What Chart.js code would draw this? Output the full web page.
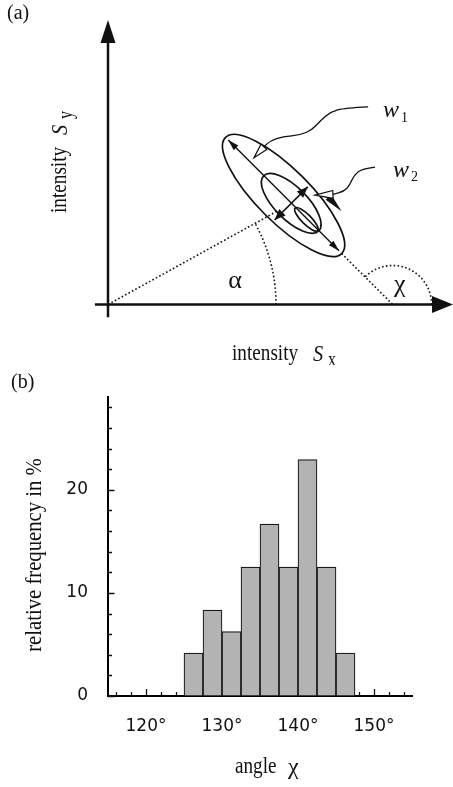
<!DOCTYPE html>
<html>
<head>
<meta charset="utf-8">
<script src="https://cdn.jsdelivr.net/npm/chart.js@4.4.1/dist/chart.umd.min.js"></script>
<style>
  html, body { margin: 0; padding: 0; background: #fff; }
  #wrap { position: relative; width: 453px; height: 787px; overflow: hidden; }
  canvas { position: absolute; left: 0; }
  #diagram { top: 0; }
  #histo { top: 365px; }
</style>
</head>
<body>
<div id="wrap">
  <canvas id="diagram" width="453" height="365"></canvas>
  <canvas id="histo" width="453" height="422"></canvas>
</div>
<script>
// ---- (b) histogram of the orientation angle chi ----
const binCenters   = [126.25, 128.75, 131.25, 133.75, 136.25, 138.75, 141.25, 143.75, 146.25]; // degrees, 2.5° bins
const relFrequency = [4.17, 8.33, 6.25, 12.5, 16.67, 12.5, 22.92, 12.5, 4.17];              // percent
const xMajorTicks  = [120, 130, 140, 150];
const xTickLabels  = ['120°', '130°', '140°', '150°'];
const yMajorTicks  = [0, 10, 20];
const yTickLabels  = ['0', '10', '20'];
const xRange = [115, 155];
const yRange = [0, 29];
const minorStep = 2;

// ---- (a) scatter ellipse in the (Sx, Sy) intensity plane, arbitrary units ----
const chiDeg       = 135;            // orientation of the major axis
const outerCenter  = [5.09, 3.16];
const outerAxes    = [2.38, 0.77];   // semi-major, semi-minor
const innerCenter  = [5.31, 2.93];   // centre of the distribution
const innerAxes    = [1.13, 0.47];
const coreCenter   = [5.75, 2.47];
const coreAxes     = [0.46, 0.14];
const w1Half       = 2.27;
const w2Half       = 0.68;
const alphaArcR    = 4.87;
const chiArcR      = 1.13;
const w1Pointer    = [[7.54, 5.73], [6.87, 5.70], [6.44, 5.58], [6.15, 5.32], [5.91, 5.06], [5.57, 4.91], [5.07, 4.87], [4.70, 4.74], [4.52, 4.57]];
const w1PointerTip = [4.23, 4.25];
const w2Pointer    = [[7.74, 3.98], [7.36, 3.93], [7.13, 3.75], [7.01, 3.46], [6.84, 3.28], [6.52, 3.19]];
const w2PointerTip = [6.00, 3.17];
const dirArrow     = [[6.39, 3.11], [6.77, 2.70]]; // base, tip

const INK = '#111';
const SERIF = '"Liberation Serif", "Times New Roman", serif';
const SANS = '"DejaVu Sans", "Liberation Sans", sans-serif';

function drawText(ctx, s, x, y, font, opt = {}) {
  ctx.save();
  ctx.translate(x, y);
  if (opt.rot) ctx.rotate(opt.rot);
  ctx.scale(opt.sx || 1, 1);
  ctx.font = font;
  ctx.fillStyle = INK;
  ctx.textAlign = opt.align || 'left';
  ctx.textBaseline = 'alphabetic';
  ctx.fillText(s, 0, 0);
  ctx.restore();
}

function tri(ctx, tip, base, half, mode) {
  const dx = tip[0] - base[0], dy = tip[1] - base[1];
  const L = Math.hypot(dx, dy) || 1;
  const nx = -dy / L * half, ny = dx / L * half;
  ctx.beginPath();
  ctx.moveTo(tip[0], tip[1]);
  ctx.lineTo(base[0] + nx, base[1] + ny);
  ctx.lineTo(base[0] - nx, base[1] - ny);
  ctx.closePath();
  if (mode === 'open') {
    ctx.fillStyle = '#fff'; ctx.fill();
    ctx.lineWidth = 1.2; ctx.strokeStyle = INK; ctx.stroke();
  } else {
    ctx.fillStyle = INK; ctx.fill();
  }
}

function headAt(ctx, tip, from, len, half, mode) {
  const dx = tip[0] - from[0], dy = tip[1] - from[1];
  const L = Math.hypot(dx, dy) || 1;
  const base = [tip[0] - dx / L * len, tip[1] - dy / L * len];
  tri(ctx, tip, base, half, mode);
  return base;
}

// first point where the segment origin -> target enters an ellipse (fraction of the segment)
function enterEllipse(target, c, ax, theta) {
  const u = [Math.cos(theta), Math.sin(theta)], v = [-u[1], u[0]];
  const A = target[0] * u[0] + target[1] * u[1], B = c[0] * u[0] + c[1] * u[1];
  const A2 = target[0] * v[0] + target[1] * v[1], B2 = c[0] * v[0] + c[1] * v[1];
  const a2 = ax[0] * ax[0], b2 = ax[1] * ax[1];
  const qa = A * A / a2 + A2 * A2 / b2;
  const qb = -2 * (A * B / a2 + A2 * B2 / b2);
  const qc = B * B / a2 + B2 * B2 / b2 - 1;
  const disc = qb * qb - 4 * qa * qc;
  if (disc < 0) return 1;
  return (-qb - Math.sqrt(disc)) / (2 * qa);
}

const diagramPlugin = {
  id: 'diagram',
  afterDraw(chart) {
    const { ctx } = chart;
    const xs = chart.scales.x, ys = chart.scales.y;
    const P = p => [xs.getPixelForValue(p[0]), ys.getPixelForValue(p[1])];
    const k = xs.getPixelForValue(1) - xs.getPixelForValue(0);
    const chi = chiDeg * Math.PI / 180;
    const u = [Math.cos(chi), Math.sin(chi)];
    const v = [Math.cos(chi - Math.PI / 2), Math.sin(chi - Math.PI / 2)];
    const add = (a, b, s) => [a[0] + b[0] * s, a[1] + b[1] * s];

    ctx.save();
    ctx.strokeStyle = INK; ctx.fillStyle = INK; ctx.lineCap = 'butt';

    // coordinate axes with arrow heads
    const o = P([0, 0]);
    const yTip = P([0, ys.max]);
    const xTip = P([xs.max, 0]);
    ctx.lineWidth = 2.5;
    ctx.beginPath();
    ctx.moveTo(o[0], P([0, -0.37])[1]);
    ctx.lineTo(o[0], yTip[1] + 18);
    ctx.moveTo(P([-0.38, 0])[0], o[1]);
    ctx.lineTo(xTip[0] - 16, o[1]);
    ctx.stroke();
    tri(ctx, yTip, [yTip[0], yTip[1] + 23], 7.5, 'fill');
    tri(ctx, xTip, [xTip[0] - 21, xTip[1]], 8.5, 'fill');

    // dotted guide lines and angle arcs
    const xInt = [outerCenter[0] - outerCenter[1] * u[0] / u[1], 0];
    const majorEnd = add(outerCenter, u, -outerAxes[0]);
    const alpha = Math.atan2(innerCenter[1], innerCenter[0]);
    const tStop = enterEllipse(innerCenter, innerCenter, innerAxes, chi);
    ctx.lineWidth = 1.6;
    ctx.setLineDash([1.6, 2.3]);
    ctx.beginPath();
    ctx.moveTo(o[0], o[1]);
    const cs = P([innerCenter[0] * tStop, innerCenter[1] * tStop]);
    ctx.lineTo(cs[0], cs[1]);
    const me = P(majorEnd), xi = P(xInt);
    ctx.moveTo(me[0], me[1]);
    ctx.lineTo(xi[0], xi[1]);
    ctx.stroke();
    ctx.beginPath();
    ctx.arc(o[0], o[1], alphaArcR * k, 0, -alpha, true);
    ctx.stroke();
    ctx.beginPath();
    ctx.arc(xi[0], xi[1], chiArcR * k, 0, -chi, true);
    ctx.stroke();
    ctx.setLineDash([]);

    // contour ellipses
    ctx.lineWidth = 1.7;
    [[outerCenter, outerAxes], [innerCenter, innerAxes], [coreCenter, coreAxes]].forEach(([c, ax]) => {
      const pc = P(c);
      ctx.beginPath();
      ctx.ellipse(pc[0], pc[1], ax[0] * k, ax[1] * k, -chi, 0, Math.PI * 2);
      ctx.stroke();
    });

    // w1: length of the major axis
    const a1 = P(add(outerCenter, u, w1Half)), a2 = P(add(outerCenter, u, -w1Half));
    ctx.lineWidth = 1.4;
    ctx.beginPath(); ctx.moveTo(a1[0], a1[1]); ctx.lineTo(a2[0], a2[1]); ctx.stroke();
    headAt(ctx, a1, a2, 11, 3.2, 'fill');
    headAt(ctx, a2, a1, 11, 3.2, 'fill');

    // w2: width across the major axis
    const b1 = P(add(innerCenter, v, w2Half)), b2 = P(add(innerCenter, v, -w2Half));
    ctx.lineWidth = 1.6;
    ctx.beginPath(); ctx.moveTo(b1[0], b1[1]); ctx.lineTo(b2[0], b2[1]); ctx.stroke();
    headAt(ctx, b1, b2, 11, 4.5, 'fill');
    headAt(ctx, b2, b1, 11, 4.5, 'fill');

    // direction arrow next to the ellipse
    tri(ctx, P(dirArrow[1]), P(dirArrow[0]), 3.8, 'fill');

    // wavy pointers from the labels
    const pointer = (pts, tip) => {
      const q = pts.map(P);
      ctx.lineWidth = 1.3; ctx.strokeStyle = INK;
      ctx.beginPath();
      ctx.moveTo(q[0][0], q[0][1]);
      for (let i = 1; i < q.length - 1; i++) {
        const mx = (q[i][0] + q[i + 1][0]) / 2, my = (q[i][1] + q[i + 1][1]) / 2;
        ctx.quadraticCurveTo(q[i][0], q[i][1], mx, my);
      }
      const last = q[q.length - 1];
      ctx.lineTo(last[0], last[1]);
      ctx.stroke();
      tri(ctx, P(tip), last, 4, 'open');
    };
    pointer(w1Pointer, w1PointerTip);
    pointer(w2Pointer, w2PointerTip);

    // labels
    const l1 = P([7.97, 5.435]);
    drawText(ctx, 'w', l1[0], l1[1], `italic 24px ${SERIF}`);
    drawText(ctx, '1', l1[0] + 18, l1[1] + 5, `14px ${SERIF}`);
    const l2 = P([8.26, 3.70]);
    drawText(ctx, 'w', l2[0], l2[1], `italic 24px ${SERIF}`);
    drawText(ctx, '2', l2[0] + 18, l2[1] + 4, `14px ${SERIF}`);
    const la = P([3.68, 0.48]);
    drawText(ctx, 'α', la[0], la[1], `26px ${SERIF}`, { align: 'center' });
    const lc = P([8.46, 0.36]);
    drawText(ctx, 'χ', lc[0], lc[1], `26px ${SERIF}`, { align: 'center' });

    // panel label and axis titles
    drawText(ctx, '(a)', 7, 19, `20px ${SERIF}`);
    drawText(ctx, 'intensity', 232, 360, `24px ${SERIF}`, { sx: 0.8 });
    drawText(ctx, 'S', 313, 361, `italic 24px ${SERIF}`, { sx: 0.85 });
    drawText(ctx, 'x', 328, 366, `20px ${SERIF}`, { sx: 0.8 });
    ctx.save();
    ctx.translate(66, 213);
    ctx.rotate(-Math.PI / 2);
    drawText(ctx, 'intensity', 0, 0, `24px ${SERIF}`, { sx: 0.8 });
    drawText(ctx, 'S', 78, 1, `italic 24px ${SERIF}`, { sx: 0.85 });
    drawText(ctx, 'y', 94, 6, `20px ${SERIF}`, { sx: 0.8 });
    ctx.restore();

    ctx.restore();
  }
};

new Chart(document.getElementById('diagram'), {
  type: 'scatter',
  data: { datasets: [{ data: [] }] },
  options: {
    responsive: false,
    animation: false,
    devicePixelRatio: 1,
    events: [],
    layout: { padding: { left: 108, right: 0, top: 20, bottom: 60.5 } },
    plugins: { legend: { display: false }, tooltip: { enabled: false } },
    scales: {
      x: { type: 'linear', min: 0, max: 10, display: false },
      y: { type: 'linear', min: 0, max: 8.246, display: false }
    }
  },
  plugins: [diagramPlugin]
});

// ---- histogram chart ----
const ticksFrom = (lo, hi) => { const t = []; for (let s = Math.ceil(lo / minorStep) * minorStep; s <= hi; s += minorStep) t.push({ value: s }); return t; };

const histoPlugin = {
  id: 'histoDecor',
  beforeDatasetsDraw(chart) {
    const { ctx, chartArea } = chart;
    const xs = chart.scales.x, ys = chart.scales.y;
    ctx.save();
    ctx.strokeStyle = INK; ctx.lineWidth = 1.3;
    ctx.beginPath();
    xs.ticks.forEach(t => {
      const px = Math.round(xs.getPixelForValue(t.value)) + 0.5;
      const len = xMajorTicks.includes(t.value) ? 7 : 4;
      ctx.moveTo(px, chartArea.bottom); ctx.lineTo(px, chartArea.bottom - len);
    });
    ys.ticks.forEach(t => {
      const py = Math.round(ys.getPixelForValue(t.value)) + 0.5;
      const len = yMajorTicks.includes(t.value) ? 6.5 : 4;
      ctx.moveTo(chartArea.left, py); ctx.lineTo(chartArea.left + len, py);
    });
    ctx.stroke();
    ctx.restore();
  },
  afterDraw(chart) {
    const { ctx } = chart;
    drawText(ctx, '(b)', 11, 23, `20px ${SERIF}`);
    drawText(ctx, 'relative frequency in %', 41, 190, `23px ${SERIF}`, { sx: 0.9, align: 'center', rot: -Math.PI / 2 });
    drawText(ctx, 'angle', 235, 408, `24px ${SERIF}`, { sx: 0.8 });
    drawText(ctx, 'χ', 288, 409, `24px ${SERIF}`);
  }
};

new Chart(document.getElementById('histo'), {
  type: 'bar',
  data: {
    datasets: [{
      data: binCenters.map((x, i) => ({ x, y: relFrequency[i] })),
      backgroundColor: '#b3b3b3',
      borderColor: '#1a1a1a',
      borderWidth: 1.2,
      borderSkipped: false,
      barThickness: 'flex',
      barPercentage: 1,
      categoryPercentage: 1
    }]
  },
  options: {
    responsive: false,
    animation: false,
    devicePixelRatio: 1,
    events: [],
    layout: { padding: { left: 0, right: 41, top: 32, bottom: 0 } },
    plugins: { legend: { display: false }, tooltip: { enabled: false } },
    scales: {
      x: {
        type: 'linear', min: xRange[0], max: xRange[1], offset: false,
        grid: { display: false, drawTicks: false, offset: false },
        border: { display: true, color: '#000', width: 2 },
        afterBuildTicks: s => { s.ticks = ticksFrom(xRange[0], xRange[1]); },
        afterFit: s => { s.height = 91; },
        ticks: {
          autoSkip: false, maxRotation: 0, padding: 20, color: INK,
          font: { family: SANS, size: 17 },
          callback: v => { const i = xMajorTicks.indexOf(v); return i >= 0 ? xTickLabels[i] : ''; }
        }
      },
      y: {
        type: 'linear', min: yRange[0], max: yRange[1],
        grid: { display: false, drawTicks: false },
        border: { display: true, color: '#000', width: 2 },
        afterBuildTicks: s => { s.ticks = ticksFrom(yRange[0], yRange[1]); },
        afterFit: s => { s.width = 108; },
        ticks: {
          autoSkip: false, padding: 20, color: INK,
          font: { family: SANS, size: 17 },
          callback: v => { const i = yMajorTicks.indexOf(v); return i >= 0 ? yTickLabels[i] : ''; }
        }
      }
    }
  },
  plugins: [histoPlugin]
});
</script>
</body>
</html>
